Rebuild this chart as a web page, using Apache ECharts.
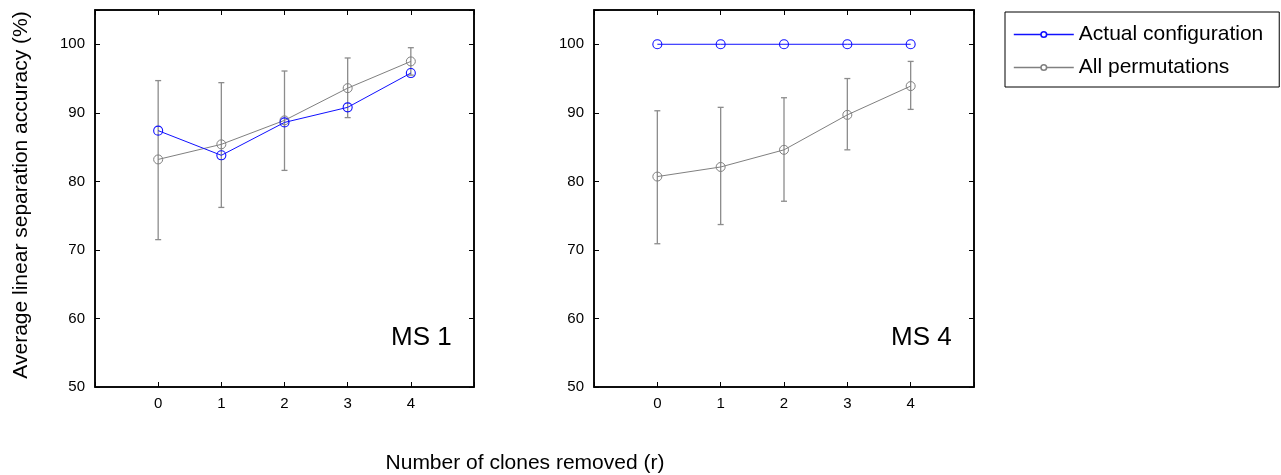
<!DOCTYPE html>
<html>
<head>
<meta charset="utf-8">
<script src="https://cdn.jsdelivr.net/npm/echarts@6/dist/echarts.min.js"></script>
<style>
  html, body { margin: 0; padding: 0; background: #fff; }
  #chart { width: 1281px; height: 475px; }
</style>
</head>
<body>
<div id="chart"></div>
<script>
// Number of clones removed (r)
const clonesRemoved = [0, 1, 2, 3, 4];
const xTickLabels = ['0', '1', '2', '3', '4'];
const yTicks = [50, 60, 70, 80, 90, 100];

// MS 1 panel
const ms1Actual = [87.4, 83.8, 88.6, 90.8, 95.8];
const ms1PermMean = [83.2, 85.4, 88.9, 93.6, 97.5];
const ms1PermLow = [71.5, 76.2, 81.6, 89.3, 95.5];
const ms1PermHigh = [94.7, 94.4, 96.1, 98.0, 99.5];

// MS 4 panel
const ms4Actual = [100, 100, 100, 100, 100];
const ms4PermMean = [80.7, 82.1, 84.6, 89.7, 93.9];
const ms4PermLow = [70.9, 73.7, 77.1, 84.6, 90.5];
const ms4PermHigh = [90.3, 90.8, 92.2, 95.0, 97.5];

const panelNames = ['MS 1', 'MS 4'];

const BLUE = '#1010ff';
const GRAY = '#808080';
const FONT = 'Liberation Sans, Arial, sans-serif';

const chart = echarts.init(document.getElementById('chart'));

const grids = [
  { left: 95, top: 10, width: 379, height: 377 },
  { left: 594, top: 10, width: 380, height: 377 }
];

function pairs(values) {
  return values.map((v, i) => [clonesRemoved[i], v]);
}

function errorData(low, high) {
  return low.map((l, i) => [clonesRemoved[i], l, high[i]]);
}

// vertical error bar with short caps at both ends
function renderErrorBar(params, api) {
  const x = api.value(0);
  const lo = api.coord([x, api.value(1)]);
  const hi = api.coord([x, api.value(2)]);
  const cap = 3;
  const style = { stroke: '#8c8c8c', lineWidth: 1.3 };
  return {
    type: 'group',
    children: [
      { type: 'line', shape: { x1: lo[0], y1: lo[1], x2: hi[0], y2: hi[1] }, style },
      { type: 'line', shape: { x1: lo[0] - cap, y1: lo[1], x2: lo[0] + cap, y2: lo[1] }, style },
      { type: 'line', shape: { x1: hi[0] - cap, y1: hi[1], x2: hi[0] + cap, y2: hi[1] }, style }
    ]
  };
}

const xAxes = [];
const yAxes = [];
grids.forEach((g, i) => {
  const base = {
    gridIndex: i, type: 'value', min: -1, max: 5, interval: 1,
    axisLine: { show: true, onZero: false, lineStyle: { color: '#000', width: 1.5 } },
    axisTick: { show: true, inside: true, length: 5, lineStyle: { color: '#000' } },
    splitLine: { show: false }
  };
  xAxes.push(Object.assign({}, base, {
    position: 'bottom',
    axisLabel: {
      show: true, margin: 9, color: '#000', fontSize: 15, fontFamily: FONT,
      formatter: v => (v >= 0 && v <= 4 ? xTickLabels[v] : '')
    }
  }));
  xAxes.push(Object.assign({}, base, { position: 'top', axisLabel: { show: false } }));

  const ybase = {
    gridIndex: i, type: 'value', min: 50, max: 105, interval: 10,
    axisLine: { show: true, onZero: false, lineStyle: { color: '#000', width: 1.5 } },
    axisTick: { show: true, inside: true, length: 5, lineStyle: { color: '#000' } },
    splitLine: { show: false }
  };
  yAxes.push(Object.assign({}, ybase, {
    position: 'left',
    axisLabel: {
      show: true, margin: 10, color: '#000', fontSize: 15, fontFamily: FONT,
      formatter: v => (yTicks.indexOf(v) >= 0 ? String(v) : '')
    }
  }));
  yAxes.push(Object.assign({}, ybase, { position: 'right', axisLabel: { show: false } }));
});

const panels = [
  { actual: ms1Actual, mean: ms1PermMean, low: ms1PermLow, high: ms1PermHigh },
  { actual: ms4Actual, mean: ms4PermMean, low: ms4PermLow, high: ms4PermHigh }
];

const series = [];
panels.forEach((p, i) => {
  const xi = i * 2, yi = i * 2;
  series.push({
    type: 'custom', name: 'err' + i, xAxisIndex: xi, yAxisIndex: yi,
    renderItem: renderErrorBar, data: errorData(p.low, p.high), z: 2, silent: true
  });
  series.push({
    type: 'line', name: 'All permutations', xAxisIndex: xi, yAxisIndex: yi,
    data: pairs(p.mean), symbol: 'circle', symbolSize: 9,
    lineStyle: { color: GRAY, width: 1 },
    itemStyle: { color: 'rgba(0,0,0,0)', borderColor: GRAY, borderWidth: 1 },
    z: 3
  });
  series.push({
    type: 'line', name: 'Actual configuration', xAxisIndex: xi, yAxisIndex: yi,
    data: pairs(p.actual), symbol: 'circle', symbolSize: 9,
    lineStyle: { color: BLUE, width: 1 },
    itemStyle: { color: 'rgba(0,0,0,0)', borderColor: BLUE, borderWidth: 1.1 },
    z: 4
  });
});

chart.setOption({
  animation: false,
  backgroundColor: '#fff',
  grid: grids.map(g => Object.assign({ show: true, borderColor: '#000', borderWidth: 1.5, backgroundColor: 'transparent' }, g)),
  xAxis: xAxes,
  yAxis: yAxes,
  legend: {
    data: ['Actual configuration', 'All permutations'],
    orient: 'vertical', left: 1005, top: 12,
    itemWidth: 60, itemHeight: 7, itemGap: 12, itemTextGap: 12,
    padding: [12, 16, 9, 8],
    borderColor: '#000', borderWidth: 1,
    lineStyle: { width: 1.6 },
    itemStyle: { color: '#fff', borderWidth: 1.6 },
    textStyle: { color: '#000', fontSize: 21, fontFamily: FONT },
    selectedMode: false
  },
  graphic: [
    { type: 'text', left: 391, top: 325, style: { text: panelNames[0], fontSize: 26, fontFamily: FONT, fill: '#000' } },
    { type: 'text', left: 891, top: 325, style: { text: panelNames[1], fontSize: 26, fontFamily: FONT, fill: '#000' } },
    { type: 'text', x: 525, y: 463, style: { text: 'Number of clones removed (r)', fontSize: 21, fontFamily: FONT, fill: '#000', align: 'center', verticalAlign: 'middle' } },
    { type: 'text', x: 21, y: 195, rotation: Math.PI / 2, style: { text: 'Average linear separation accuracy (%)', fontSize: 21, fontFamily: FONT, fill: '#000', align: 'center', verticalAlign: 'middle' } }
  ],
  series: series
});
</script>
</body>
</html>
